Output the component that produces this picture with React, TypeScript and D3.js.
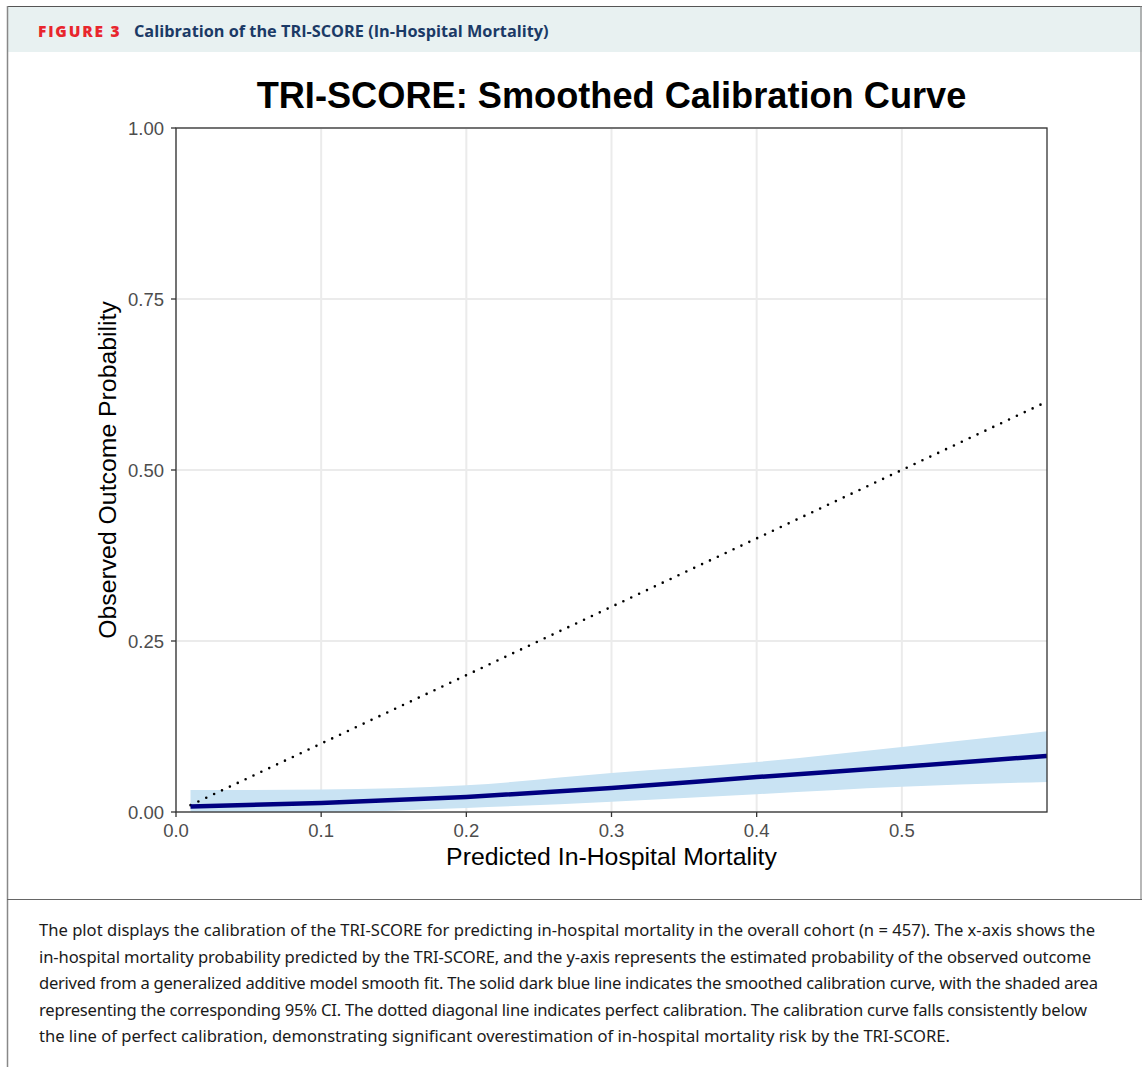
import React from "react";
import * as d3 from "d3";

const xTicks = [0, 0.1, 0.2, 0.3, 0.4, 0.5];
const yTicks = [0, 0.25, 0.5, 0.75, 1.0];
const predicted = [0.01, 0.1, 0.2, 0.3, 0.4, 0.5, 0.6];
const observed = [0.008, 0.013, 0.022, 0.035, 0.051, 0.066, 0.082];
const ciLower = [0.0, 0.0, 0.006, 0.015, 0.026, 0.037, 0.044];
const ciUpper = [0.032, 0.033, 0.039, 0.057, 0.073, 0.095, 0.118];
const diagonal = [0.01, 0.6];

const captionLines = [
  "The plot displays the calibration of the TRI-SCORE for predicting in-hospital mortality in the overall cohort (n = 457). The x-axis shows the",
  "in-hospital mortality probability predicted by the TRI-SCORE, and the y-axis represents the estimated probability of the observed outcome",
  "derived from a generalized additive model smooth fit. The solid dark blue line indicates the smoothed calibration curve, with the shaded area",
  "representing the corresponding 95% CI. The dotted diagonal line indicates perfect calibration. The calibration curve falls consistently below",
  "the line of perfect calibration, demonstrating significant overestimation of in-hospital mortality risk by the TRI-SCORE.",
];
const captionWidths = [1056, 1052, 1059, 1048, 911];

export default function App() {
  const W = 1142, H = 1067;
  const L = 176, R = 1047, T = 128, B = 812;
  const x = d3.scaleLinear().domain([0, 0.6]).range([L, R]);
  const y = d3.scaleLinear().domain([0, 1]).range([B, T]);
  const pts = predicted.map((p, i) => ({ p, o: observed[i], lo: ciLower[i], hi: ciUpper[i] }));
  const line = d3.line<any>().x(d => x(d.p)).y(d => y(d.o)).curve(d3.curveMonotoneX);
  const area = d3.area<any>().x(d => x(d.p)).y0(d => y(d.lo)).y1(d => y(d.hi)).curve(d3.curveMonotoneX);
  const tickFont = "'Liberation Sans', Arial, sans-serif";
  return (
    <svg width={W} height={H} style={{ position: "absolute", left: 0, top: 0, background: "#fff" }}>
      <rect x={7} y={6} width={W - 7} height={46} fill="#e8f1f1" />
      <line x1={7} x2={W} y1={6.5} y2={6.5} stroke="#555" strokeWidth={1} />
      <line x1={7.5} x2={7.5} y1={6} y2={H} stroke="#888" strokeWidth={1.5} />
      <line x1={1141} x2={1141} y1={6} y2={899} stroke="#888" strokeWidth={1.2} />
      <line x1={7} x2={W} y1={899.5} y2={899.5} stroke="#666" strokeWidth={1} />
      <text x={38} y={37} fontFamily="'Open Sans', 'Noto Sans', sans-serif" fontWeight={800} fontSize={15.5} fill="#e8262d" letterSpacing={1.8}>FIGURE 3</text>
      <text x={134} y={37} fontFamily="'Open Sans', 'Noto Sans', sans-serif" fontWeight={700} fontSize={16.3} fill="#1b3a66">Calibration of the TRI-SCORE (In-Hospital Mortality)</text>

      <text x={(L + R) / 2} y={108} textAnchor="middle" fontFamily={tickFont} fontWeight={700} fontSize={36.2} fill="#000">TRI-SCORE: Smoothed Calibration Curve</text>

      <defs>
        <clipPath id="panel"><rect x={L} y={T} width={R - L} height={B - T} /></clipPath>
      </defs>
      {xTicks.map(t => (
        <line key={"gx" + t} x1={x(t)} x2={x(t)} y1={T} y2={B} stroke="#ebebeb" strokeWidth={2} />
      ))}
      {yTicks.map(t => (
        <line key={"gy" + t} x1={L} x2={R} y1={y(t)} y2={y(t)} stroke="#ebebeb" strokeWidth={2} />
      ))}
      <g clipPath="url(#panel)">
        <path d={area(pts) || ""} fill="#c9e3f3" />
        <line x1={x(diagonal[0])} y1={y(diagonal[0])} x2={x(diagonal[1])} y2={y(diagonal[1])} stroke="#000" strokeWidth={2.6} strokeLinecap="round" strokeDasharray="0 8.7" />
        <path d={line(pts) || ""} fill="none" stroke="#000080" strokeWidth={4.5} />
      </g>
      <rect x={L} y={T} width={R - L} height={B - T} fill="none" stroke="#333" strokeWidth={1.3} />
      {xTicks.map(t => (
        <g key={"xt" + t}>
          <line x1={x(t)} x2={x(t)} y1={B} y2={B + 5} stroke="#333" strokeWidth={1.3} />
          <text x={x(t)} y={B + 25} textAnchor="middle" fontFamily={tickFont} fontSize={18.5} fill="#4d4d4d">{d3.format(".1f")(t)}</text>
        </g>
      ))}
      {yTicks.map(t => (
        <g key={"yt" + t}>
          <line x1={L - 5} x2={L} y1={y(t)} y2={y(t)} stroke="#333" strokeWidth={1.3} />
          <text x={L - 12} y={y(t) + 7} textAnchor="end" fontFamily={tickFont} fontSize={18.5} fill="#4d4d4d">{d3.format(".2f")(t)}</text>
        </g>
      ))}
      <text x={(L + R) / 2} y={865} textAnchor="middle" fontFamily={tickFont} fontSize={24.8} fill="#000">Predicted In-Hospital Mortality</text>
      <text transform={`translate(116, ${(T + B) / 2}) rotate(-90)`} textAnchor="middle" fontFamily={tickFont} fontSize={24.8} fill="#000">Observed Outcome Probability</text>

      {captionLines.map((s, i) => (
        <text key={i} x={39} y={936 + i * 26.6} fontFamily="'Noto Sans', sans-serif" fontSize={16.6} fill="#1a1a1a" textLength={captionWidths[i]} lengthAdjust="spacing">{s}</text>
      ))}
    </svg>
  );
}
